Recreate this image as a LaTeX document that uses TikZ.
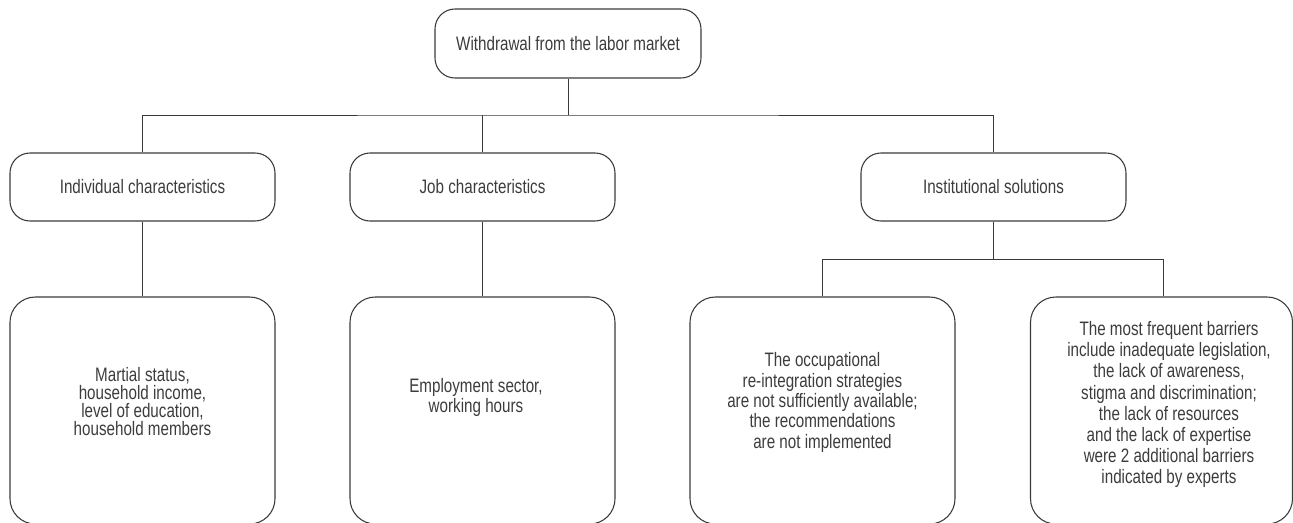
\documentclass[tikz,border=0pt]{standalone}
\usepackage{fontspec}
\setmainfont[FakeStretch=0.78]{Liberation Sans}
\definecolor{linec}{HTML}{3A3A3A}
\definecolor{txtc}{HTML}{3C3C3C}
\begin{document}
\begin{tikzpicture}[x=0.75pt,y=-0.75pt,
  lbl/.style={font=\fontsize{14.6pt}{#1}\selectfont, text=txtc, align=center},
  lbl/.default=14pt,
  smallbox/.style={draw=linec, line width=0.8pt, rounded corners=15pt,
    minimum width=198.75pt, minimum height=51pt, inner sep=0pt, lbl},
  bigbox/.style={draw=linec, line width=0.8pt, rounded corners=19pt,
    minimum width=198.75pt, minimum height=170.25pt, inner sep=0pt},
  conn/.style={draw=linec, line width=0.75pt}]
\useasboundingbox (0,0) rectangle (1293,522);
\clip (0,0) rectangle (1293,522);

% level 1
\node[smallbox, minimum width=199.5pt, minimum height=51.75pt] (top) at (568,43.5) {Withdrawal from the labor market};

% level 2
\node[smallbox] (ind)  at (142.5,187) {Individual characteristics};
\node[smallbox] (job)  at (482.5,187) {Job characteristics};
\node[smallbox] (inst) at (993.5,187) {Institutional solutions};

% level 3
\node[bigbox] (b1) at (142.5,410.5) {};
\node[bigbox] (b2) at (482.5,410.5) {};
\node[bigbox] (b3) at (822.5,410.5) {};
\node[bigbox, minimum width=196.5pt] (b4) at (1161.5,410.5) {};

\node[lbl=13.6pt] (t1) at ([shift={(0,-9)}]b1.center) {Martial status,\\household income,\\level of education,\\household members};
\node[lbl=13.6pt] (t2) at ([shift={(-6.5,-13)}]b2.center) {Employment sector,\\working hours};
\node[lbl=15.3pt] (t3) at ([shift={(0,-8)}]b3.center) {The occupational\\re-integration strategies\\are not sufficiently available;\\the recommendations\\are not implemented};
\node[lbl=15.8pt] (t4) at ([shift={(7.5,-6)}]b4.center) {The most frequent barriers\\include inadequate legislation,\\the lack of awareness,\\stigma and discrimination;\\the lack of resources\\and the lack of expertise\\were 2 additional barriers\\indicated by experts};

% buses
\coordinate (bus1) at (568,115);
\coordinate (bus2) at (993.5,259);

\draw[conn] (top.south) -- (bus1);
\draw[conn] (ind.north) |- (bus1) -| (inst.north);
\draw[conn] (job.north) -- (job.north |- bus1);

\draw[conn] (ind.south) -- (b1.north);
\draw[conn] (job.south) -- (b2.north);

\draw[conn] (inst.south) -- (bus2);
\draw[conn] (b3.north) |- (bus2);
\draw[conn] (bus2) -| ([xshift=1.5pt]b4.north);
\end{tikzpicture}
\end{document}
